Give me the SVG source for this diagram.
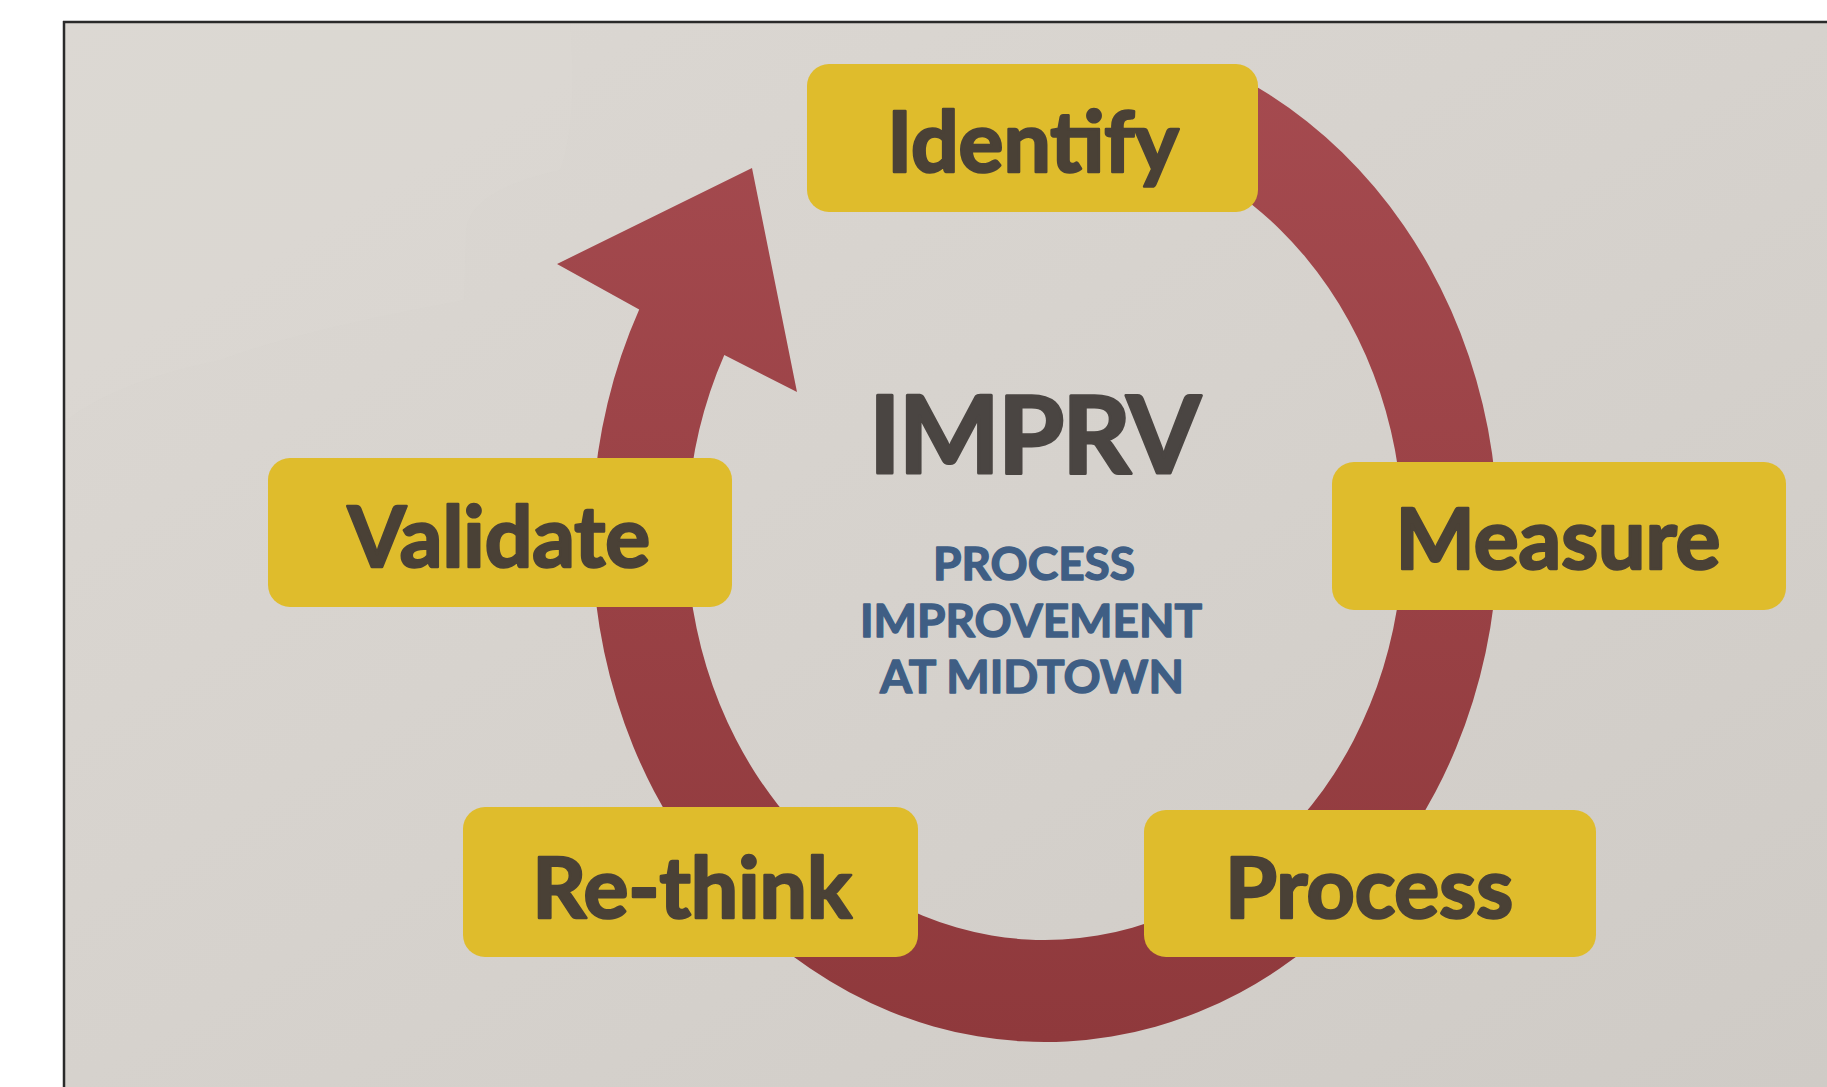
<svg xmlns="http://www.w3.org/2000/svg" width="1827" height="1087" viewBox="0 0 1827 1087">
  <style>
    .box { fill: #DFBC2C; }
    .lbl { font-family: Lato, "Open Sans", "Liberation Sans", sans-serif; font-weight: 700; font-size: 84px; fill: #4A4136; stroke: #4A4136; stroke-width: 2.6px; stroke-linejoin: round; text-anchor: middle; }
    .title { font-family: Lato, "Open Sans", "Liberation Sans", sans-serif; font-weight: 700; font-size: 107px; fill: #4A4542; stroke: #4A4542; stroke-width: 3px; stroke-linejoin: round; letter-spacing: -2px; text-anchor: middle; }
    .sub { font-family: Lato, "Open Sans", "Liberation Sans", sans-serif; font-weight: 700; font-size: 46px; fill: #3F5E84; stroke: #3F5E84; stroke-width: 1.4px; stroke-linejoin: round; text-anchor: middle; }
  </style>
  <defs>
    <linearGradient id="bg" x1="0" y1="0" x2="1" y2="1">
      <stop offset="0" stop-color="#DCD8D3"/>
      <stop offset="0.5" stop-color="#D6D2CD"/>
      <stop offset="1" stop-color="#CFCBC6"/>
    </linearGradient>
    <linearGradient id="ringGrad" gradientUnits="userSpaceOnUse" x1="0" y1="28" x2="0" y2="1042">
      <stop offset="0" stop-color="#A64B50"/>
      <stop offset="1" stop-color="#8F393C"/>
    </linearGradient>
  </defs>

  <!-- backdrop -->
  <rect x="0" y="0" width="1827" height="1087" fill="#FFFFFF"/>
  <rect x="64" y="22" width="1763" height="1065" fill="url(#bg)"/>
  <path d="M66 24 H570 Q578 120 560 170 Q470 190 466 230 L464 300 Q300 330 220 360 Q120 380 66 420 Z" fill="#DEDAD5" opacity="0.35"/>
  <line x1="63" y1="22" x2="1827" y2="22" stroke="#2A2A2A" stroke-width="2.5"/>
  <line x1="64" y1="21" x2="64" y2="1087" stroke="#2A2A2A" stroke-width="2.5"/>

  <!-- connectors -->
  <g id="connectors">
    <path id="cycle-arrow" fill="url(#ringGrad)" d="M1229.2 71.8 A453 507 0 1 1 639.2 309.6 L557 264 L752 168 L797 392 L724.3 354.9 A358 405 0 1 0 1190.6 165 Z"/>
  </g>

  <!-- centre text -->
  <g id="center">
    <text class="title" x="1034" y="473">IMPRV</text>
    <text class="sub" x="1034" y="580">PROCESS</text>
    <text class="sub" x="1031" y="637">IMPROVEMENT</text>
    <text class="sub" x="1032" y="693">AT MIDTOWN</text>
  </g>

  <!-- nodes -->
  <g id="identify">
    <rect class="box" x="807" y="64" width="451" height="148" rx="22"/>
    <text class="lbl" x="1033" y="172">Identify</text>
  </g>
  <g id="measure">
    <rect class="box" x="1332" y="462" width="454" height="148" rx="22"/>
    <text class="lbl" x="1558" y="569">Measure</text>
  </g>
  <g id="process">
    <rect class="box" x="1144" y="810" width="452" height="147" rx="22"/>
    <text class="lbl" x="1369" y="918">Process</text>
  </g>
  <g id="rethink">
    <rect class="box" x="463" y="807" width="455" height="150" rx="22"/>
    <text class="lbl" x="692" y="918">Re-think</text>
  </g>
  <g id="validate">
    <rect class="box" x="268" y="458" width="464" height="149" rx="22"/>
    <text class="lbl" x="499" y="567">Validate</text>
  </g>
</svg>
